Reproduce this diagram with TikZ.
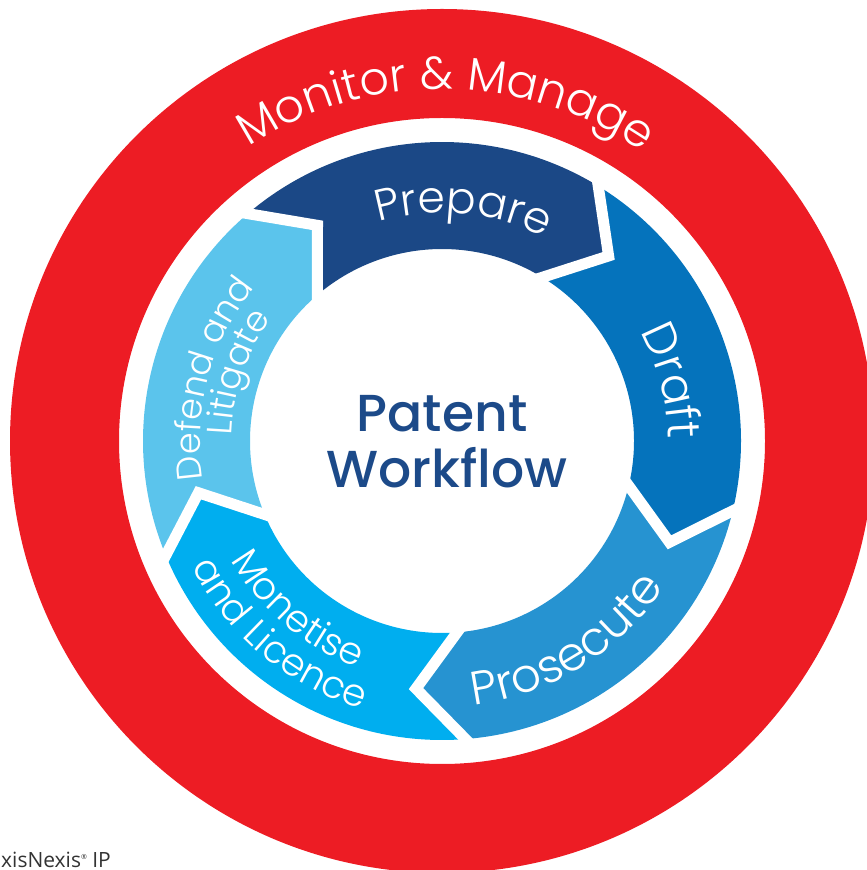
\documentclass[tikz,border=0pt]{standalone}
\usepackage{fontspec}
\setmainfont{Poppins}
\newfontfamily\labfont{Poppins Light}
\newfontfamily\ctrfont{Poppins Medium}
\newfontfamily\logofont{Open Sans}
\usetikzlibrary{decorations.text}
\definecolor{ringred}{HTML}{ED1C24}
\definecolor{prepc}{HTML}{1B4886}
\definecolor{draftc}{HTML}{0573BC}
\definecolor{prosc}{HTML}{2693D1}
\definecolor{monc}{HTML}{00AEEF}
\definecolor{defc}{HTML}{5BC4EC}
\definecolor{ctrc}{HTML}{1C4A89}
\definecolor{logoc}{HTML}{333333}
\begin{document}
\begin{tikzpicture}[x=1pt,y=1pt,
  gap/.style={draw=white,line width=11pt,line join=miter,shorten <=-8pt,shorten >=-8pt},
  arclabel/.style={decorate,decoration={text along path,text align=center,text color=white,text={#1}}},
  centertext/.style={font=\ctrfont\fontsize{52}{52}\selectfont,text=ctrc,anchor=base,inner sep=0pt}]
\useasboundingbox (0,0) rectangle (867,870);
\clip (0,0) rectangle (867,870);
\begin{scope}[shift={(442,429)}]
  \fill[ringred,even odd rule] (0,0) circle[radius=432pt] (0,0) circle[radius=323pt];
  \foreach \a/\b/\c in {130.5/58.5/prepc, 58.5/-13.5/draftc, -13.5/-85.5/prosc, -85.5/-157.5/monc, -157.5/-229.5/defc}{
    \fill[\c] (\a:299pt) arc[start angle=\a,end angle=\b,radius=299pt] -- ({\b-10.5}:249pt) -- (\b:192pt) arc[start angle=\b,end angle=\a,radius=192pt] -- ({\a-10.5}:249pt) -- cycle;
  }
  \foreach \a in {130.5,58.5,-13.5,-85.5,-157.5}{
    \draw[gap] (\a:299pt) -- ({\a-10.5}:249pt) -- (\a:192pt);
  }
  % ring labels
  \path[arclabel={|\labfont\fontsize{46}{46}\selectfont|Monitor {\&} Manage}] (129.3:352pt) arc[start angle=129.3,end angle=49.3,radius=352pt];
  \path[arclabel={|\labfont\fontsize{44}{44}\selectfont|Prepare}] (124.7:228pt) arc[start angle=124.7,end angle=44.7,radius=228pt];
  \path[arclabel={|\labfont\fontsize{46}{46}\selectfont|Draft}] (54.7:226pt) arc[start angle=54.7,end angle=-25.3,radius=226pt];
  \path[arclabel={|\labfont\fontsize{47}{47}\selectfont|Prosecute}] (261.8:266pt) arc[start angle=261.8,end angle=341.8,radius=266pt];
  \path[arclabel={|\labfont\fontsize{38}{38}\selectfont|Monetise}] (189.5:242pt) arc[start angle=189.5,end angle=269.5,radius=242pt];
  \path[arclabel={|\labfont\fontsize{38}{38}\selectfont|and Licence}] (190:280pt) arc[start angle=190,end angle=270,radius=280pt];
  \path[arclabel={|\labfont\fontsize{35}{35}\selectfont|Defend and}] (204.9:242pt) arc[start angle=204.9,end angle=124.9,radius=242pt];
  \path[arclabel={|\labfont\fontsize{35}{35}\selectfont|Litigate}] (201.4:210pt) arc[start angle=201.4,end angle=121.4,radius=210pt];
\end{scope}
\node[centertext] (patent) at (442,438) {Patent};
\node[centertext] (workflow) at (447,382) {Workflow};
\node[font=\logofont\fontsize{21}{21}\selectfont,text=logoc,anchor=base west,inner sep=0pt] (logo) at (1,2) {xisNexis\raisebox{8pt}{\fontsize{7}{7}\selectfont ®} IP};
\end{tikzpicture}
\end{document}
